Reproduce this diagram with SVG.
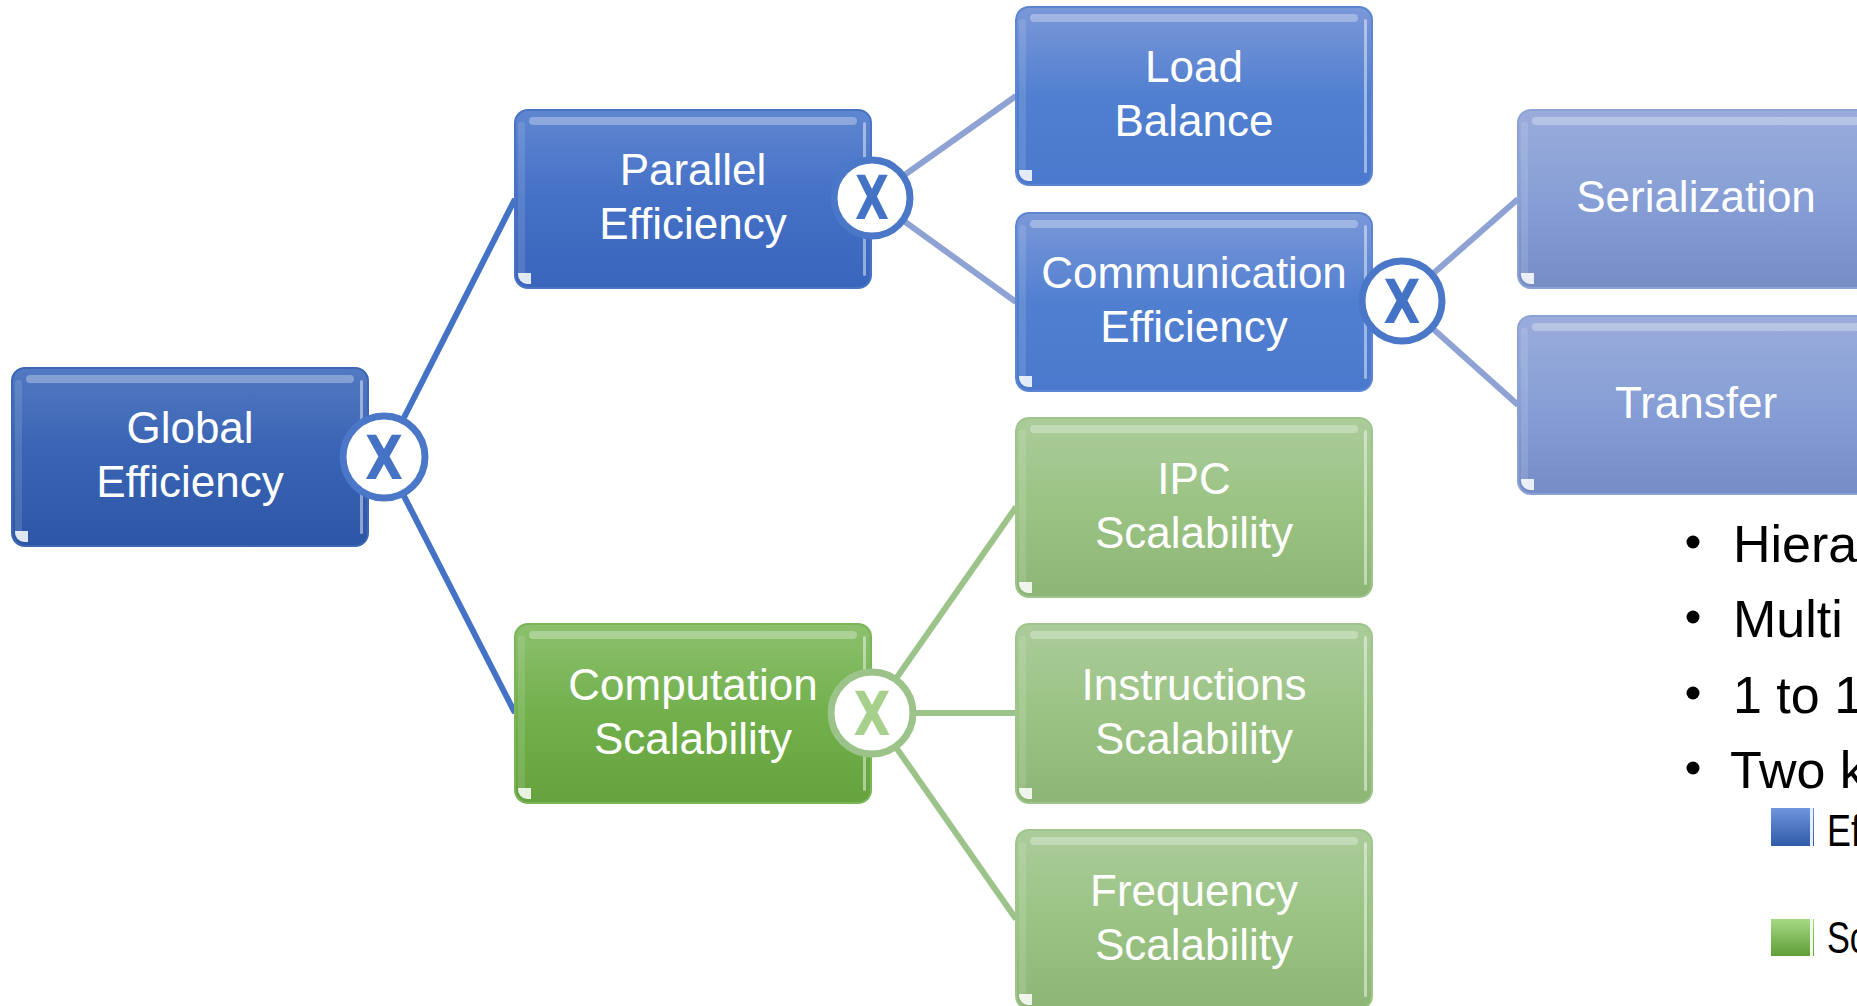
<svg xmlns="http://www.w3.org/2000/svg" width="1857" height="1006" viewBox="0 0 1857 1006">
<defs>
<linearGradient id="gGlobal" x1="0" y1="0" x2="0" y2="1"><stop offset="0" stop-color="#5279c2"/><stop offset="0.45" stop-color="#3a64b4"/><stop offset="1" stop-color="#2d57a6"/></linearGradient>
<linearGradient id="gPar" x1="0" y1="0" x2="0" y2="1"><stop offset="0" stop-color="#5f86d0"/><stop offset="0.5" stop-color="#4470c6"/><stop offset="1" stop-color="#3a65bc"/></linearGradient>
<linearGradient id="gL2" x1="0" y1="0" x2="0" y2="1"><stop offset="0" stop-color="#7b98d8"/><stop offset="0.5" stop-color="#517fd0"/><stop offset="1" stop-color="#4a79cd"/></linearGradient>
<linearGradient id="gL3" x1="0" y1="0" x2="0" y2="1"><stop offset="0" stop-color="#9aacda"/><stop offset="0.5" stop-color="#879fd6"/><stop offset="1" stop-color="#758dc4"/></linearGradient>
<linearGradient id="gComp" x1="0" y1="0" x2="0" y2="1"><stop offset="0" stop-color="#8cc06e"/><stop offset="0.5" stop-color="#72b04c"/><stop offset="1" stop-color="#66a33f"/></linearGradient>
<linearGradient id="gG2" x1="0" y1="0" x2="0" y2="1"><stop offset="0" stop-color="#abcc9b"/><stop offset="0.5" stop-color="#9bc384"/><stop offset="1" stop-color="#8db676"/></linearGradient>
<linearGradient id="gSqB" x1="0" y1="0" x2="0" y2="1"><stop offset="0" stop-color="#6f95dc"/><stop offset="1" stop-color="#2f5ba8"/></linearGradient>
<linearGradient id="gSqG" x1="0" y1="0" x2="0" y2="1"><stop offset="0" stop-color="#a6d884"/><stop offset="1" stop-color="#5f9f38"/></linearGradient>
</defs>
<style>
.box{stroke-width:2}
.hl{fill:#ffffff;opacity:0.3}
.edge{fill:#ffffff;opacity:0.45}
.ledge{fill:#ffffff;opacity:0.12}
.glint{fill:#ffffff;opacity:0.85}
.lbl{font-family:"Liberation Sans",Arial,sans-serif;font-size:44px;fill:#ffffff;text-anchor:middle}
.x{font-family:"DejaVu Sans","Liberation Sans",sans-serif;font-size:60px;font-weight:bold;text-anchor:middle}
.cb{fill:#ffffff;stroke:#4a77c8;stroke-width:7}
.cg{fill:#ffffff;stroke:#9cc38a;stroke-width:7}
.lb1{stroke:#4472c4;stroke-width:6;fill:none}
.lb2{stroke:#8fa2d4;stroke-width:6;fill:none}
.lg{stroke:#9cc38a;stroke-width:6;fill:none}
.rt{font-family:"Liberation Sans",Arial,sans-serif;font-size:52px;fill:#000000}
.st{font-family:"Liberation Sans",Arial,sans-serif;font-size:44px;fill:#000000}
</style>
<rect width="1857" height="1006" fill="#ffffff"/>

<g id="connectors">
<line class="lb1" x1="384" y1="457" x2="515" y2="199"/>
<line class="lb1" x1="384" y1="457" x2="515" y2="713"/>
<line class="lb2" x1="872" y1="198" x2="1016" y2="96"/>
<line class="lb2" x1="872" y1="198" x2="1016" y2="302"/>
<line class="lb2" x1="1402" y1="301" x2="1518" y2="199"/>
<line class="lb2" x1="1402" y1="301" x2="1518" y2="405"/>
<line class="lg" x1="872" y1="713" x2="1016" y2="507"/>
<line class="lg" x1="872" y1="713" x2="1016" y2="713"/>
<line class="lg" x1="872" y1="713" x2="1016" y2="919"/>
</g>

<g id="global">
<rect class="box" x="12" y="368" width="356" height="178" rx="13" fill="url(#gGlobal)" stroke="#3d66b3"/>
<rect class="ledge" x="15" y="380" width="7" height="154" rx="3"/>
<rect class="hl" x="26" y="375" width="328" height="8" rx="4"/>
<rect class="edge" x="360" y="380" width="3" height="154" rx="1.5"/>
<path class="glint" d="M15 531 a10 10 0 0 0 9 11 h4 v-11 z"/>
<text class="lbl" x="190" y="443">Global</text>
<text class="lbl" x="190" y="497">Efficiency</text>
</g>

<g id="parallel">
<rect class="box" x="515" y="110" width="356" height="178" rx="13" fill="url(#gPar)" stroke="#4a73c3"/>
<rect class="ledge" x="518" y="122" width="7" height="154" rx="3"/>
<rect class="hl" x="529" y="117" width="328" height="8" rx="4"/>
<rect class="edge" x="863" y="122" width="3" height="154" rx="1.5"/>
<path class="glint" d="M518 273 a10 10 0 0 0 9 11 h4 v-11 z"/>
<text class="lbl" x="693" y="185">Parallel</text>
<text class="lbl" x="693" y="239">Efficiency</text>
</g>

<g id="load">
<rect class="box" x="1016" y="7" width="356" height="178" rx="13" fill="url(#gL2)" stroke="#5d86d2"/>
<rect class="ledge" x="1019" y="19" width="7" height="154" rx="3"/>
<rect class="hl" x="1030" y="14" width="328" height="8" rx="4"/>
<rect class="edge" x="1364" y="19" width="3" height="154" rx="1.5"/>
<path class="glint" d="M1019 170 a10 10 0 0 0 9 11 h4 v-11 z"/>
<text class="lbl" x="1194" y="82">Load</text>
<text class="lbl" x="1194" y="136">Balance</text>
</g>

<g id="comm">
<rect class="box" x="1016" y="213" width="356" height="178" rx="13" fill="url(#gL2)" stroke="#5d86d2"/>
<rect class="ledge" x="1019" y="225" width="7" height="154" rx="3"/>
<rect class="hl" x="1030" y="220" width="328" height="8" rx="4"/>
<rect class="edge" x="1364" y="225" width="3" height="154" rx="1.5"/>
<path class="glint" d="M1019 376 a10 10 0 0 0 9 11 h4 v-11 z"/>
<text class="lbl" x="1194" y="288">Communication</text>
<text class="lbl" x="1194" y="342">Efficiency</text>
</g>

<g id="serialization">
<rect class="box" x="1518" y="110" width="356" height="178" rx="13" fill="url(#gL3)" stroke="#8da2d4"/>
<rect class="ledge" x="1521" y="122" width="7" height="154" rx="3"/>
<rect class="hl" x="1532" y="117" width="328" height="8" rx="4"/>
<path class="glint" d="M1521 273 a10 10 0 0 0 9 11 h4 v-11 z"/>
<text class="lbl" x="1696" y="212">Serialization</text>
</g>

<g id="transfer">
<rect class="box" x="1518" y="316" width="356" height="178" rx="13" fill="url(#gL3)" stroke="#8da2d4"/>
<rect class="ledge" x="1521" y="328" width="7" height="154" rx="3"/>
<rect class="hl" x="1532" y="323" width="328" height="8" rx="4"/>
<path class="glint" d="M1521 479 a10 10 0 0 0 9 11 h4 v-11 z"/>
<text class="lbl" x="1696" y="418">Transfer</text>
</g>

<g id="computation">
<rect class="box" x="515" y="624" width="356" height="179" rx="13" fill="url(#gComp)" stroke="#7ab55a"/>
<rect class="ledge" x="518" y="636" width="7" height="155" rx="3"/>
<rect class="hl" x="529" y="631" width="328" height="8" rx="4"/>
<rect class="edge" x="863" y="636" width="3" height="155" rx="1.5"/>
<path class="glint" d="M518 788 a10 10 0 0 0 9 11 h4 v-11 z"/>
<text class="lbl" x="693" y="700">Computation</text>
<text class="lbl" x="693" y="754">Scalability</text>
</g>

<g id="ipc">
<rect class="box" x="1016" y="418" width="356" height="179" rx="13" fill="url(#gG2)" stroke="#9fc48c"/>
<rect class="ledge" x="1019" y="430" width="7" height="155" rx="3"/>
<rect class="hl" x="1030" y="425" width="328" height="8" rx="4"/>
<rect class="edge" x="1364" y="430" width="3" height="155" rx="1.5"/>
<path class="glint" d="M1019 582 a10 10 0 0 0 9 11 h4 v-11 z"/>
<text class="lbl" x="1194" y="494">IPC</text>
<text class="lbl" x="1194" y="548">Scalability</text>
</g>

<g id="instructions">
<rect class="box" x="1016" y="624" width="356" height="179" rx="13" fill="url(#gG2)" stroke="#9fc48c"/>
<rect class="ledge" x="1019" y="636" width="7" height="155" rx="3"/>
<rect class="hl" x="1030" y="631" width="328" height="8" rx="4"/>
<rect class="edge" x="1364" y="636" width="3" height="155" rx="1.5"/>
<path class="glint" d="M1019 788 a10 10 0 0 0 9 11 h4 v-11 z"/>
<text class="lbl" x="1194" y="700">Instructions</text>
<text class="lbl" x="1194" y="754">Scalability</text>
</g>

<g id="frequency">
<rect class="box" x="1016" y="830" width="356" height="179" rx="13" fill="url(#gG2)" stroke="#9fc48c"/>
<rect class="ledge" x="1019" y="842" width="7" height="155" rx="3"/>
<rect class="hl" x="1030" y="837" width="328" height="8" rx="4"/>
<rect class="edge" x="1364" y="842" width="3" height="155" rx="1.5"/>
<path class="glint" d="M1019 994 a10 10 0 0 0 9 11 h4 v-11 z"/>
<text class="lbl" x="1194" y="906">Frequency</text>
<text class="lbl" x="1194" y="960">Scalability</text>
</g>

<g id="x-global">
<circle class="cb" cx="384" cy="457" r="41"/>
<text class="x" x="384" y="479" fill="#4472c4" textLength="38" lengthAdjust="spacingAndGlyphs">X</text>
</g>
<g id="x-parallel">
<circle class="cb" cx="872" cy="198" r="38"/>
<text class="x" x="872" y="219" fill="#4472c4" textLength="34" lengthAdjust="spacingAndGlyphs">X</text>
</g>
<g id="x-comm">
<circle class="cb" cx="1402" cy="301" r="40"/>
<text class="x" x="1402" y="323" fill="#4472c4" textLength="37" lengthAdjust="spacingAndGlyphs">X</text>
</g>
<g id="x-computation">
<circle class="cg" cx="872" cy="713" r="41"/>
<text class="x" x="872" y="735" fill="#a8d08d" textLength="37" lengthAdjust="spacingAndGlyphs">X</text>
</g>

<g id="notes">
<circle cx="1693" cy="542" r="6.5" fill="#000"/>
<text class="rt" x="1733" y="562">Hiera</text>
<circle cx="1693" cy="617" r="6.5" fill="#000"/>
<text class="rt" x="1733" y="637">Multi</text>
<circle cx="1693" cy="693" r="6.5" fill="#000"/>
<text class="rt" x="1733" y="713">1 to 1</text>
<circle cx="1693" cy="768" r="6.5" fill="#000"/>
<text class="rt" x="1730" y="788">Two k</text>
<rect x="1771" y="808" width="43" height="38" fill="url(#gSqB)"/>
<rect x="1810" y="808" width="3" height="38" fill="#e6eeff"/>
<text class="st" x="1827" y="846" textLength="34" lengthAdjust="spacingAndGlyphs">Ef</text>
<rect x="1771" y="919" width="43" height="37" fill="url(#gSqG)"/>
<rect x="1810" y="919" width="3" height="37" fill="#f0ffe6"/>
<text class="st" x="1827" y="953" textLength="40" lengthAdjust="spacingAndGlyphs">Sc</text>
</g>
</svg>
